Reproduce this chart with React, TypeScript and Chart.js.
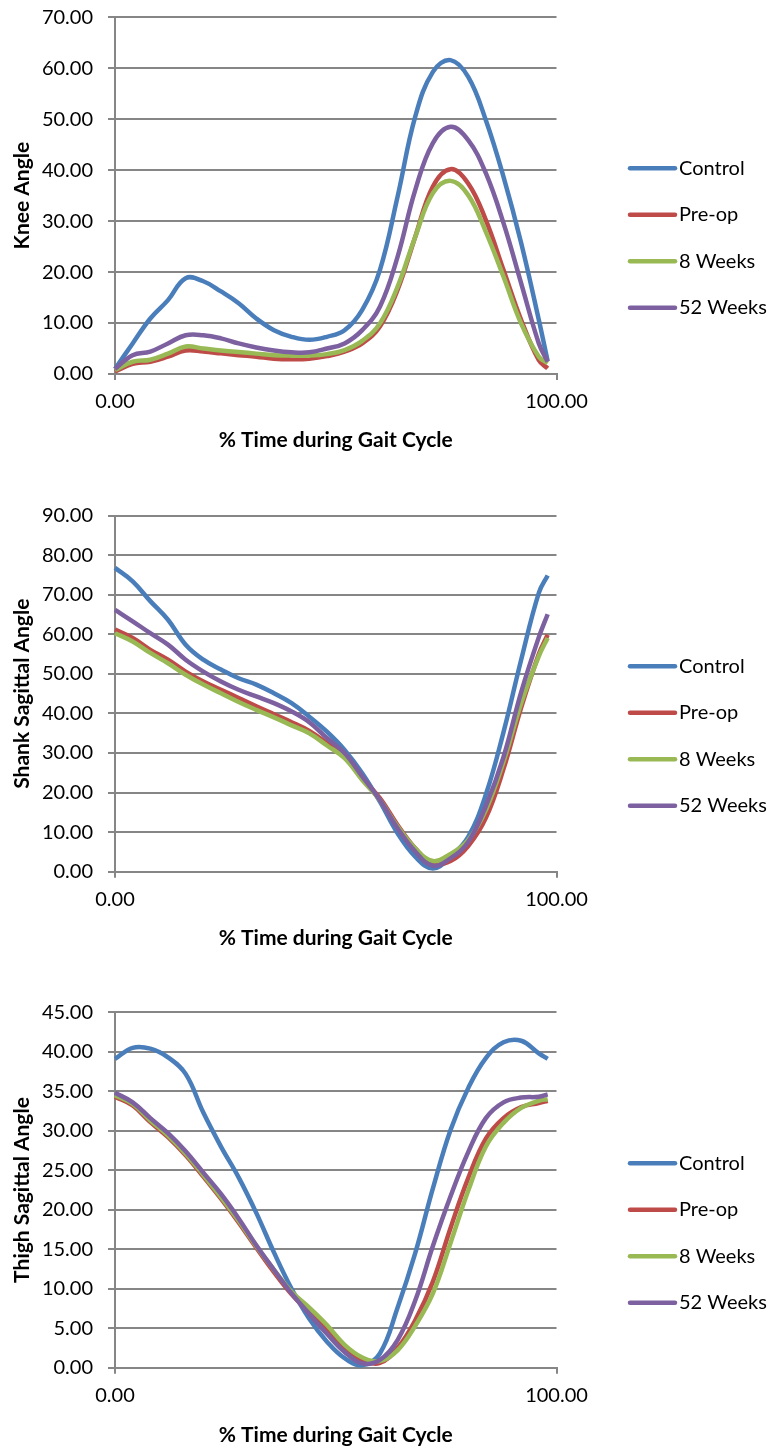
import React, { useEffect, useRef } from "react";
import { Chart, registerables } from "chart.js";

Chart.register(...registerables);

// ---------------- data ----------------
const X_PCT = [0, 4, 8, 12, 16, 20, 24, 28, 32, 36, 40, 44, 48, 52, 56, 60, 64, 68, 72, 76, 80, 84, 88, 92, 96, 98];
const X_TICKS = [0, 100];
const X_TITLE = "% Time during Gait Cycle";

const SERIES_NAMES = ["Control", "Pre-op", "8 Weeks", "52 Weeks"];
const SERIES_COLORS = ["#4A7EBB", "#BE4B48", "#98B954", "#7D60A0"];

// Knee angle
const KNEE_CONTROL = [1.0, 6.0, 10.9, 14.5, 18.8, 18.2, 16.2, 13.9, 10.9, 8.6, 7.3, 6.7, 7.3, 8.6, 12.6, 20.4, 34.8, 50.5, 59.3, 61.6, 58.3, 49.8, 38.7, 25.7, 10.6, 2.5];
const KNEE_PREOP = [0.5, 2.0, 2.4, 3.4, 4.6, 4.4, 4.05, 3.7, 3.4, 3.0, 2.9, 3.0, 3.5, 4.4, 6.0, 9.3, 16.5, 26.9, 36.8, 40.2, 37.4, 30.2, 20.4, 10.6, 2.7, 1.1];
const KNEE_8W = [0.8, 2.4, 2.8, 4.0, 5.4, 5.0, 4.6, 4.3, 4.0, 3.7, 3.6, 3.6, 3.9, 4.7, 6.5, 9.9, 17.1, 26.9, 35.5, 37.9, 35.1, 27.9, 19.1, 9.9, 3.4, 2.1];
const KNEE_52W = [1.0, 3.7, 4.4, 6.0, 7.6, 7.6, 7.0, 6.0, 5.2, 4.6, 4.25, 4.25, 5.0, 6.0, 8.6, 13.2, 23.0, 36.1, 45.3, 48.5, 45.9, 39.4, 29.6, 17.8, 6.0, 2.4];

// Shank sagittal angle
const SHANK_CONTROL = [76.8, 73.4, 68.4, 63.7, 57.4, 53.6, 51.1, 48.9, 47.3, 45.1, 42.6, 39.2, 35.4, 30.8, 24.9, 17.7, 9.7, 3.8, 0.8, 3.8, 8.8, 19.5, 35.3, 53.6, 70.5, 74.9];
const SHANK_PREOP = [61.2, 59.1, 56.1, 53.6, 50.6, 48.1, 46.0, 43.9, 41.8, 39.8, 37.8, 35.6, 32.5, 29.1, 23.6, 18.6, 11.8, 5.9, 2.1, 2.7, 6.5, 13.6, 26.0, 41.5, 55.0, 59.9];
const SHANK_8W = [60.3, 58.2, 55.3, 52.7, 49.8, 47.3, 45.1, 42.9, 40.9, 39.0, 37.0, 35.0, 31.9, 28.7, 23.2, 18.1, 11.4, 5.9, 2.7, 4.5, 8.0, 15.6, 27.8, 42.6, 54.5, 59.1];
const SHANK_52W = [66.2, 63.3, 60.3, 57.4, 53.6, 50.6, 48.1, 46.0, 44.3, 42.6, 40.5, 37.8, 33.8, 30.0, 24.1, 18.1, 11.0, 5.1, 1.5, 3.4, 7.5, 16.6, 29.0, 45.4, 59.3, 65.1];

// Thigh sagittal angle
const THIGH_CONTROL = [39.1, 40.5, 40.4, 39.3, 37.2, 32.3, 28.0, 24.1, 19.6, 14.6, 10.0, 6.2, 3.3, 1.2, 0.3, 1.8, 7.6, 14.5, 22.7, 30.1, 35.4, 39.2, 41.2, 41.4, 39.8, 39.1];
const THIGH_PREOP = [34.3, 33.2, 31.1, 29.2, 26.9, 24.2, 21.4, 18.4, 15.2, 12.1, 9.3, 7.0, 4.8, 2.4, 1.0, 0.6, 2.5, 6.0, 10.9, 17.7, 24.0, 29.0, 31.6, 33.0, 33.5, 33.8];
const THIGH_8W = [34.5, 33.4, 31.3, 29.4, 27.1, 24.4, 21.6, 18.6, 15.4, 12.4, 9.6, 7.6, 5.4, 2.9, 1.3, 0.85, 2.2, 5.3, 9.4, 15.8, 22.4, 28.0, 31.0, 32.9, 33.8, 34.0];
const THIGH_52W = [34.8, 33.6, 31.6, 29.7, 27.4, 24.7, 22.0, 18.9, 15.5, 12.4, 9.4, 6.8, 4.3, 2.0, 0.55, 1.0, 3.5, 8.5, 15.4, 21.7, 27.3, 31.6, 33.6, 34.2, 34.3, 34.6];

const Y_TITLES = ["Knee Angle", "Shank Sagittal Angle", "Thigh Sagittal Angle"];
const Y_MAX = [70, 90, 45];
const Y_STEP = [10, 10, 5];
const CHART_SERIES = [
  [KNEE_CONTROL, KNEE_PREOP, KNEE_8W, KNEE_52W],
  [SHANK_CONTROL, SHANK_PREOP, SHANK_8W, SHANK_52W],
  [THIGH_CONTROL, THIGH_PREOP, THIGH_8W, THIGH_52W],
];

// ---------------- layout ----------------
const PAGE_W = 773;
const PAGE_H = 1448;
const CANVAS_H = 476;
const CHART_TOPS = [0, 498, 995];
const PLOT_TOPS = [17.3, 17.7, 17.3];
const PLOT_BOTTOMS = [374, 373.7, 372.7];
const PLOT_LEFT = 115;
const PLOT_RIGHT = 556.5;
const GRID = "#868686";
const FONT_FAMILY = "Lato, 'Open Sans', sans-serif";
const TICK_FONT = { family: FONT_FAMILY, size: 20 };
const TITLE_FONT = { family: FONT_FAMILY, size: 21, weight: "bold" as const };

const sideLegend = {
  id: "sideLegend",
  afterDraw(chart: any) {
    const { ctx } = chart;
    const ds = chart.data.datasets;
    const cy = chart.height / 2;
    const gap = 46.5;
    ctx.save();
    ds.forEach((d: any, i: number) => {
      const y = cy + (i - (ds.length - 1) / 2) * gap;
      ctx.strokeStyle = d.borderColor;
      ctx.lineWidth = 4.5;
      ctx.lineCap = "round";
      ctx.beginPath();
      ctx.moveTo(630, y);
      ctx.lineTo(675, y);
      ctx.stroke();
      ctx.fillStyle = "#000";
      ctx.font = `20px ${FONT_FAMILY}`;
      ctx.textAlign = "left";
      ctx.textBaseline = "middle";
      ctx.fillText(d.label, 679, y);
    });
    ctx.restore();
  },
};

function GaitChart({ idx }: { idx: number }) {
  const ref = useRef<HTMLCanvasElement | null>(null);
  useEffect(() => {
    if (!ref.current) return;
    const plotTop = PLOT_TOPS[idx];
    const plotBottom = PLOT_BOTTOMS[idx];
    const chart = new Chart(ref.current, {
      type: "line",
      data: {
        datasets: CHART_SERIES[idx].map((vals, s) => ({
          label: SERIES_NAMES[s],
          data: X_PCT.map((x, i) => ({ x, y: vals[i] })),
          borderColor: SERIES_COLORS[s],
          backgroundColor: SERIES_COLORS[s],
          borderWidth: 4.5,
          pointRadius: 0,
          tension: 0.4,
          fill: false,
          clip: false as any,
          order: SERIES_NAMES.length - s,
        })),
      },
      options: {
        animation: false,
        responsive: false,
        devicePixelRatio: 1,
        layout: { padding: { top: plotTop, right: PAGE_W - PLOT_RIGHT, left: 0, bottom: 0 } },
        plugins: { legend: { display: false }, tooltip: { enabled: false } },
        scales: {
          x: {
            type: "linear",
            min: 0,
            max: 100,
            afterBuildTicks: (s: any) => {
              s.ticks = X_TICKS.map((v) => ({ value: v }));
            },
            afterFit: (s: any) => {
              s.height = CANVAS_H - plotBottom;
              s.paddingLeft = 0;
              s.paddingRight = 0;
            },
            ticks: {
              callback: (v: any) => Number(v).toFixed(2),
              font: TICK_FONT,
              color: "#000",
              padding: 10,
              maxRotation: 0,
              autoSkip: false,
            },
            grid: { drawOnChartArea: false, drawTicks: true, tickLength: 6, color: GRID, lineWidth: 2 },
            border: { color: GRID, width: 2 },
            title: { display: true, text: X_TITLE, font: TITLE_FONT, color: "#000", padding: { top: 0, bottom: 23 } },
          },
          y: {
            min: 0,
            max: Y_MAX[idx],
            afterFit: (s: any) => {
              s.width = PLOT_LEFT;
              s.paddingTop = 0;
              s.paddingBottom = 0;
            },
            ticks: {
              stepSize: Y_STEP[idx],
              callback: (v: any) => Number(v).toFixed(2),
              font: TICK_FONT,
              color: "#000",
              padding: 15,
            },
            grid: { color: GRID, lineWidth: 2, tickLength: 7 },
            border: { color: GRID, width: 2 },
            title: { display: true, text: Y_TITLES[idx], font: TITLE_FONT, color: "#000", padding: { top: 10, bottom: 0 } },
          },
        },
      } as any,
      plugins: [sideLegend],
    });
    return () => chart.destroy();
  }, [idx]);
  return (
    <div style={{ position: "absolute", left: 0, top: CHART_TOPS[idx], width: PAGE_W, height: CANVAS_H }}>
      <canvas ref={ref} width={PAGE_W} height={CANVAS_H} style={{ display: "block" }} />
    </div>
  );
}

export default function App() {
  return (
    <div
      style={{
        position: "absolute",
        left: 0,
        top: 0,
        width: PAGE_W,
        height: PAGE_H,
        overflow: "hidden",
        background: "#fff",
      }}
    >
      {[0, 1, 2].map((i) => (
        <GaitChart key={i} idx={i} />
      ))}
    </div>
  );
}
